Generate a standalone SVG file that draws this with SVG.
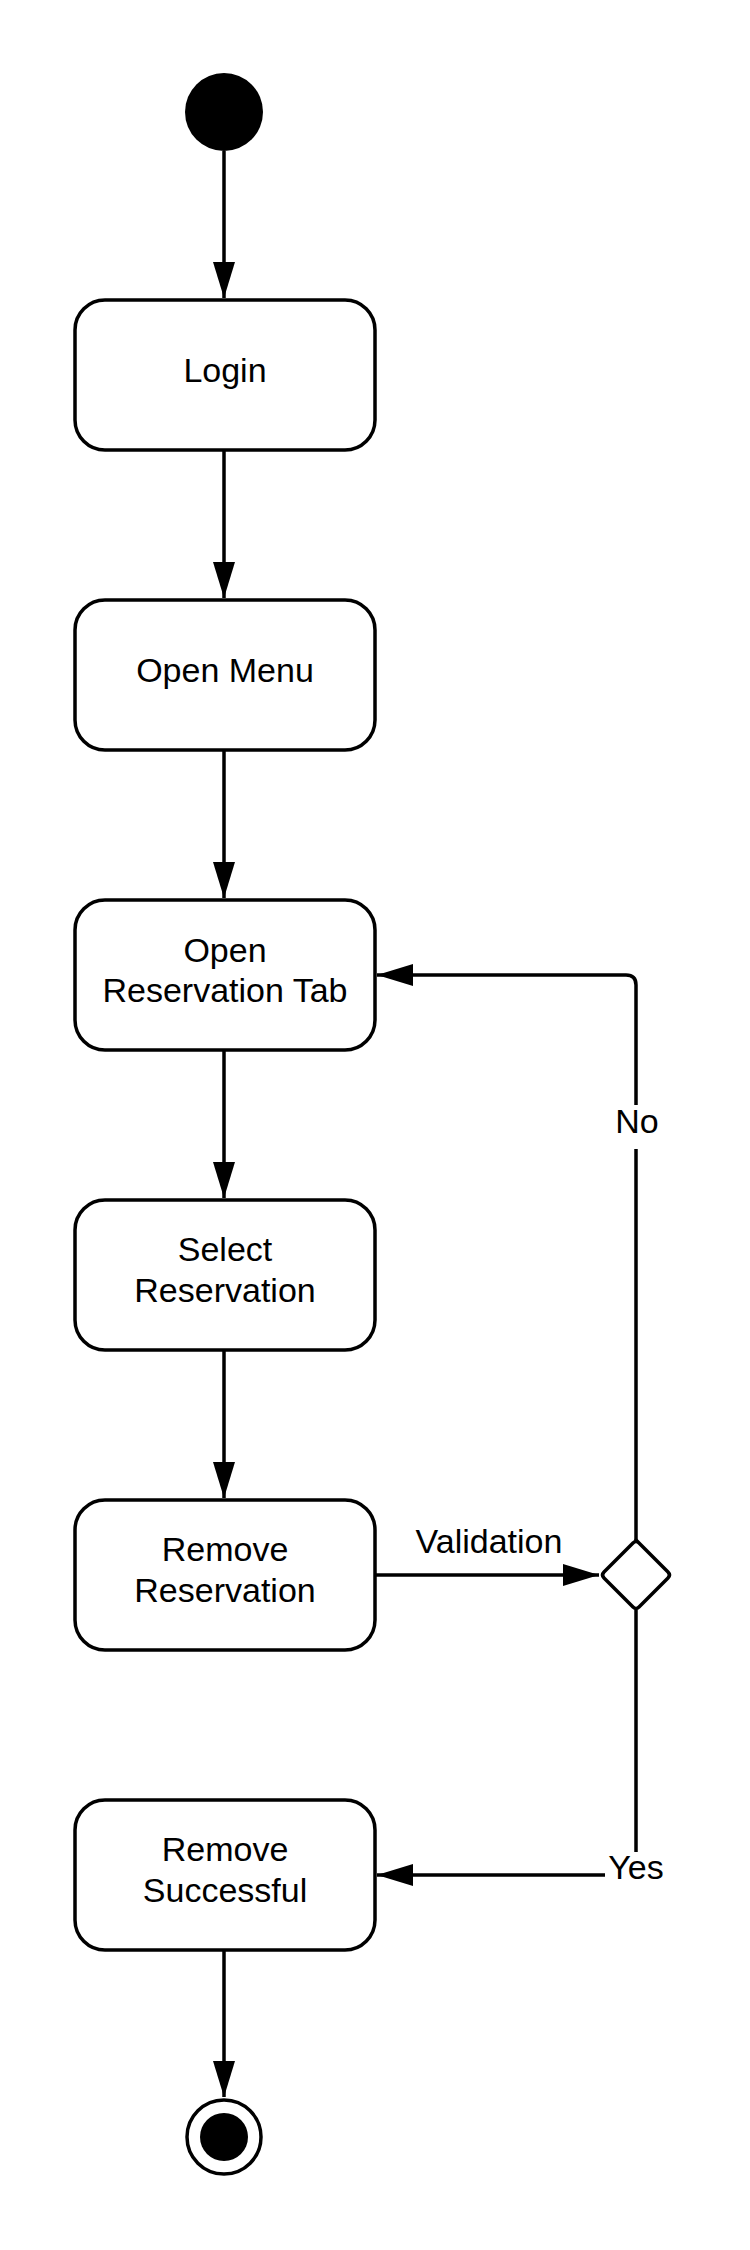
<svg xmlns="http://www.w3.org/2000/svg" width="750" height="2250" viewBox="0 0 750 2250">
<style>
.box{fill:#fff;stroke:#000;stroke-width:3.5}
.t{font-family:"Liberation Sans",Arial,sans-serif;font-size:34px;fill:#000;text-anchor:middle}
.c{fill:none;stroke:#000;stroke-width:3.5}
</style>
<defs>
<marker id="arr" markerWidth="36" markerHeight="22" refX="36" refY="11" orient="auto" markerUnits="userSpaceOnUse">
<path d="M0,0 L36,11 L0,22 Z" fill="#000"/>
</marker>
</defs>
<rect width="750" height="2250" fill="#fff"/>
<g id="connectors">
<path class="c" d="M224,151 V298" marker-end="url(#arr)"/>
<path class="c" d="M224,450 V598" marker-end="url(#arr)"/>
<path class="c" d="M224,750 V898" marker-end="url(#arr)"/>
<path class="c" d="M224,1050 V1198" marker-end="url(#arr)"/>
<path class="c" d="M224,1350 V1498" marker-end="url(#arr)"/>
<path class="c" d="M375,1575 H599" marker-end="url(#arr)"/>
<path class="c" d="M636,1540 V985 Q636,975 626,975 H377" marker-end="url(#arr)"/>
<path class="c" d="M636,1610 V1875 H377" marker-end="url(#arr)"/>
<path class="c" d="M224,1950 V2097" marker-end="url(#arr)"/>
<rect x="616" y="1105" width="42" height="44" fill="#fff"/>
<text class="t" x="637" y="1133">No</text>
<rect x="605" y="1852" width="62" height="36" fill="#fff"/>
<text class="t" x="636" y="1879">Yes</text>
<text class="t" x="489" y="1553">Validation</text>
</g>
<g id="start"><circle cx="224" cy="112" r="39" fill="#000"/></g>
<g id="login"><rect class="box" x="75" y="300" width="300" height="150" rx="30"/><text class="t" x="225" y="382">Login</text></g>
<g id="openmenu"><rect class="box" x="75" y="600" width="300" height="150" rx="30"/><text class="t" x="225" y="682">Open Menu</text></g>
<g id="openres"><rect class="box" x="75" y="900" width="300" height="150" rx="30"/><text class="t" x="225" y="962">Open</text><text class="t" x="225" y="1002">Reservation Tab</text></g>
<g id="selectres"><rect class="box" x="75" y="1200" width="300" height="150" rx="30"/><text class="t" x="225" y="1261">Select</text><text class="t" x="225" y="1302">Reservation</text></g>
<g id="removeres"><rect class="box" x="75" y="1500" width="300" height="150" rx="30"/><text class="t" x="225" y="1561">Remove</text><text class="t" x="225" y="1602">Reservation</text></g>
<g id="decision"><path d="M636,1540 L668,1572 Q671,1575 668,1578 L639,1607 Q636,1610 633,1607 L604,1578 Q601,1575 604,1572 L633,1543 Q636,1540 639,1543 Z" fill="#fff" stroke="#000" stroke-width="3.5" stroke-linejoin="round"/></g>
<g id="removesucc"><rect class="box" x="75" y="1800" width="300" height="150" rx="30"/><text class="t" x="225" y="1861">Remove</text><text class="t" x="225" y="1902">Successful</text></g>
<g id="end"><circle cx="224" cy="2137" r="37" fill="#fff" stroke="#000" stroke-width="3.5"/><circle cx="224" cy="2137" r="24" fill="#000"/></g>
</svg>
